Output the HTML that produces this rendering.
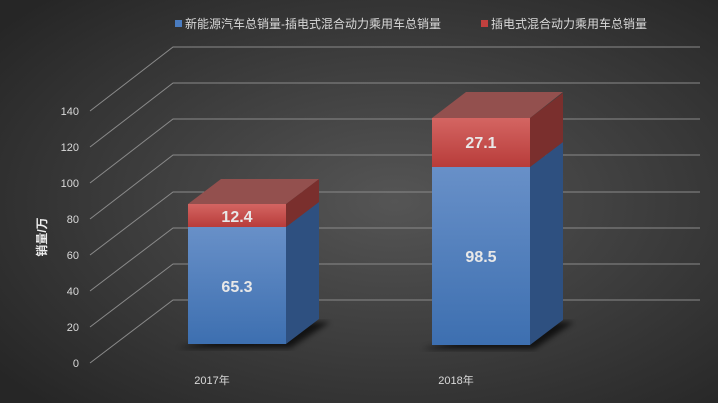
<!DOCTYPE html>
<html><head><meta charset="utf-8"><style>
body{margin:0;width:718px;height:403px;overflow:hidden;background:#333}
svg{display:block}
text{font-family:"Liberation Sans","Noto Sans CJK SC",sans-serif}
</style></head><body>
<svg width="718" height="403" xmlns="http://www.w3.org/2000/svg">
<defs>
<radialGradient id="bg" cx="0.55" cy="0.5" r="0.7">
<stop offset="0" stop-color="#555"/><stop offset="1" stop-color="#262626"/></radialGradient>
<linearGradient id="bf" x1="0" y1="0" x2="0" y2="1"><stop offset="0" stop-color="#6890c8"/><stop offset="1" stop-color="#3d6fb0"/></linearGradient>
<linearGradient id="rf" x1="0" y1="0" x2="0" y2="1"><stop offset="0" stop-color="#d46562"/><stop offset="1" stop-color="#b83c3a"/></linearGradient>
<filter id="sh"><feGaussianBlur stdDeviation="3"/></filter>
</defs>
<rect width="718" height="403" fill="url(#bg)"/>
<g stroke="#8a8a8a" stroke-width="1" fill="none">
<path d="M90 363L173 300H700M90 327L173 264H700M90 291L173 228H700M90 255L173 192H700M90 219L173 155H700M90 183L173 119H700M90 147L173 83H700M90 111L173 47H700"/>
</g>
<g font-size="11" fill="#d9d9d9" text-anchor="end">
<text x="79" y="367">0</text><text x="79" y="331">20</text><text x="79" y="295">40</text><text x="79" y="259">60</text><text x="79" y="223">80</text><text x="79" y="187">100</text><text x="79" y="151">120</text><text x="79" y="115">140</text>
</g>
<text transform="translate(46,237) rotate(-90)" text-anchor="middle" font-size="12" font-weight="bold" fill="#eee">销量/万</text>
<!-- bar1 -->
<polygon points="178,348 290,348 330,322 300,322" fill="#000" opacity="0.7" filter="url(#sh)"/>
<polygon points="286,227 319,202 319,319 286,344" fill="#2e5080"/>
<polygon points="286,204 319,179 319,202 286,227" fill="#7a2f2d"/>
<polygon points="188,204 221,179 319,179 286,204" fill="#93504e"/>
<rect x="188" y="227" width="98" height="117" fill="url(#bf)"/>
<rect x="188" y="204" width="98" height="23" fill="url(#rf)"/>
<!-- bar2 -->
<polygon points="422,349 534,349 574,322 544,322" fill="#000" opacity="0.7" filter="url(#sh)"/>
<polygon points="530,167 563,142 563,320 530,345" fill="#2e5080"/>
<polygon points="530,118 563,93 563,142 530,167" fill="#7a2f2d"/>
<polygon points="432,118 466,92 563,92 530,118" fill="#93504e"/>
<rect x="432" y="167" width="98" height="178" fill="url(#bf)"/>
<rect x="432" y="118" width="98" height="49" fill="url(#rf)"/>
<g font-size="16" font-weight="bold" fill="#e8e8e8" text-anchor="middle">
<text x="237" y="222">12.4</text><text x="237" y="292">65.3</text>
<text x="481" y="148">27.1</text><text x="481" y="262">98.5</text>
</g>
<g font-size="11" fill="#d9d9d9" text-anchor="middle">
<text x="212" y="384">2017年</text><text x="456" y="384">2018年</text>
</g>
<rect x="175" y="20" width="7" height="7" fill="#4a7cc0"/>
<text x="185" y="28" font-size="12" fill="#d9d9d9">新能源汽车总销量-插电式混合动力乘用车总销量</text>
<rect x="481" y="20" width="7" height="7" fill="#c0403e"/>
<text x="491" y="28" font-size="12" fill="#d9d9d9">插电式混合动力乘用车总销量</text>
</svg>
</body></html>
